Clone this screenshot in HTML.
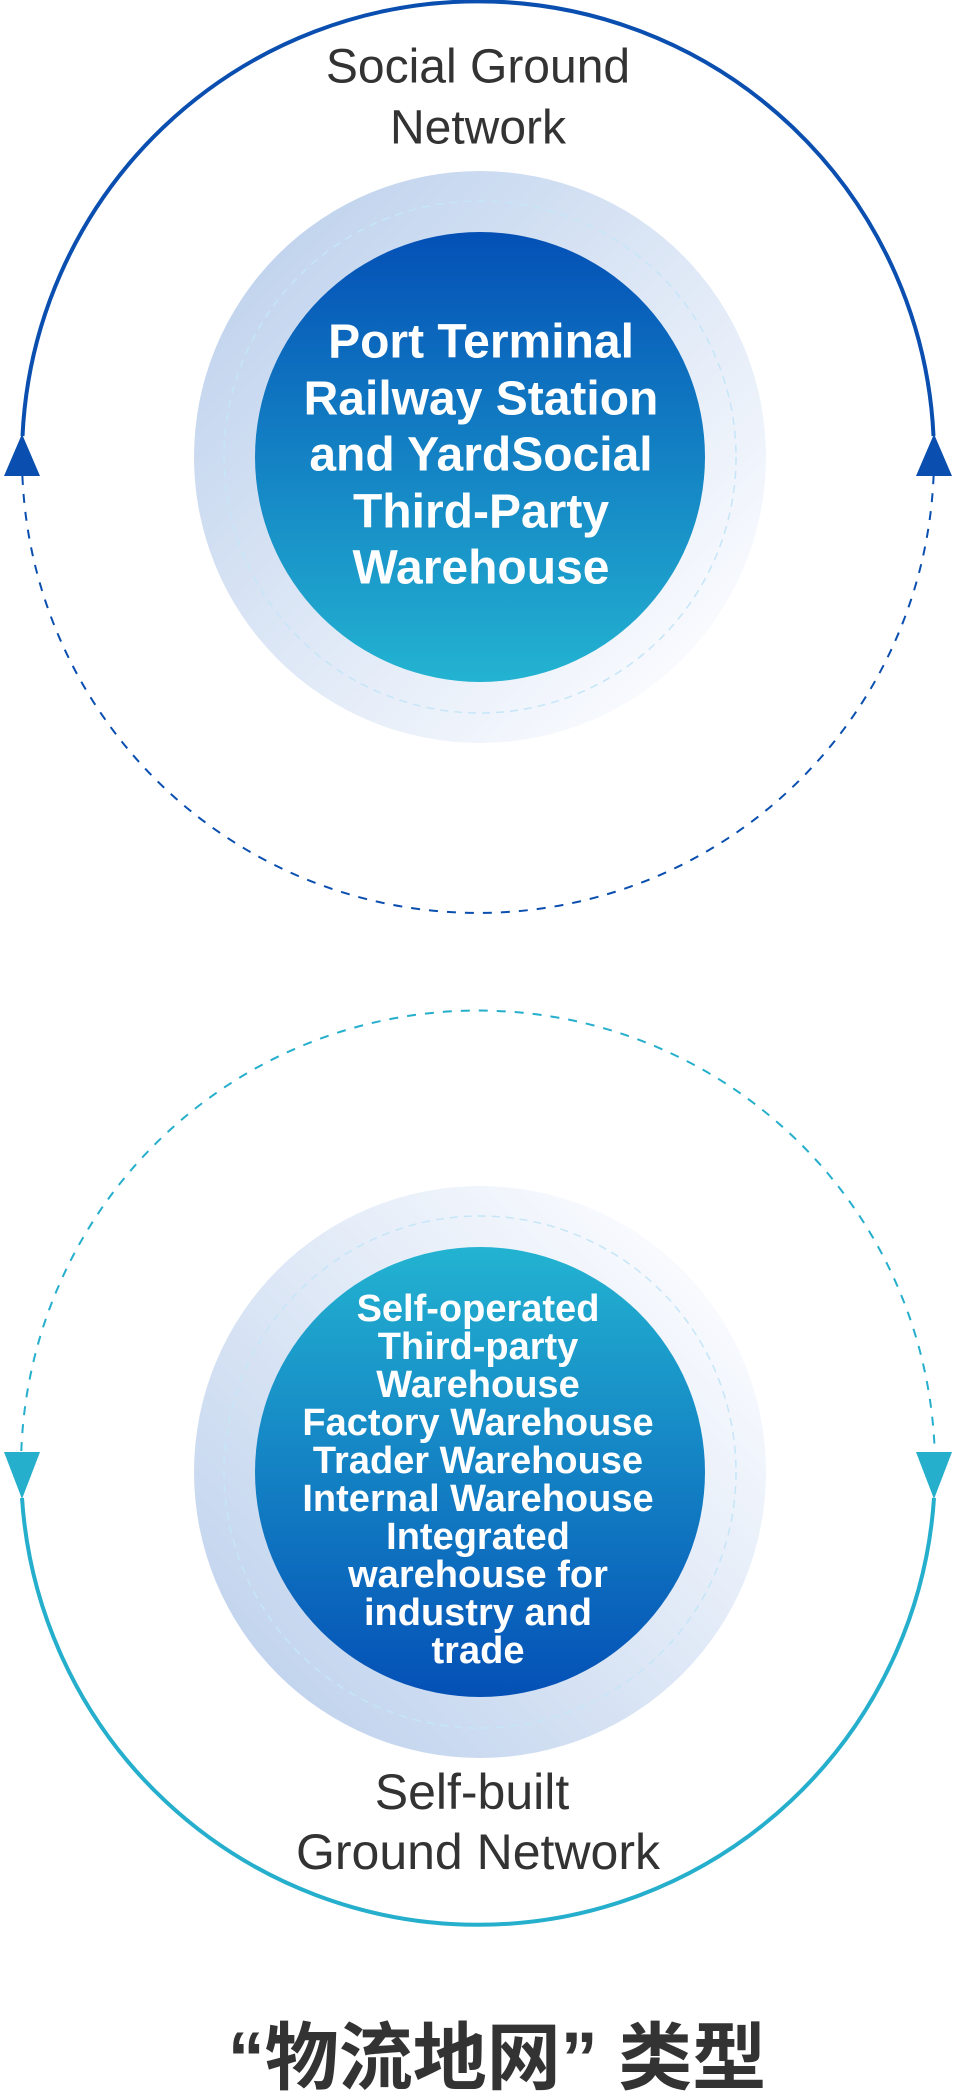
<!DOCTYPE html>
<html><head><meta charset="utf-8"><style>
html,body{margin:0;padding:0;background:#fff;}
body{width:954px;height:2096px;position:relative;overflow:hidden;font-family:"Liberation Sans","Noto Sans CJK SC",sans-serif;}
</style></head><body>
<svg width="954" height="2096" viewBox="0 0 954 2096" xmlns="http://www.w3.org/2000/svg" style="position:absolute;left:0;top:0">
<defs>
<linearGradient id="g1" x1="0" y1="0" x2="0" y2="1"><stop offset="0" stop-color="#0450b6"/><stop offset="1" stop-color="#23b3d1"/></linearGradient>
<linearGradient id="g2" x1="0" y1="0" x2="0" y2="1"><stop offset="0" stop-color="#23b3d1"/><stop offset="1" stop-color="#0450b6"/></linearGradient>
<linearGradient id="h1" x1="0.15" y1="0.15" x2="0.85" y2="0.85"><stop offset="0" stop-color="#c3d5ee"/><stop offset="1" stop-color="#f8fafe"/></linearGradient>
<linearGradient id="h2" x1="0.85" y1="0.15" x2="0.15" y2="0.85"><stop offset="0" stop-color="#f8fafe"/><stop offset="1" stop-color="#c3d5ee"/></linearGradient>
</defs>
<!-- top -->
<path d="M22.5 436 A456 456 0 0 1 933.5 436" fill="none" stroke="#0a4fb0" stroke-width="4"/>
<path d="M22.4 476 A456 456 0 0 0 933.6 476" fill="none" stroke="#0a4fb0" stroke-width="2" stroke-dasharray="9 9"/>
<polygon points="22,434 4,476 40,476" fill="#0a4fb0"/>
<polygon points="934,434 916,476 952,476" fill="#0a4fb0"/>
<circle cx="480" cy="457" r="286" fill="url(#h1)"/>
<circle cx="480" cy="457" r="256" fill="none" stroke="#c6e6f8" stroke-width="1.5" stroke-dasharray="8 6"/>
<circle cx="480" cy="457" r="225" fill="url(#g1)"/>
<text x="478" y="70" font-size="48" fill="#333" text-anchor="middle" dominant-baseline="middle">Social Ground</text>
<text x="478" y="131" font-size="48" fill="#333" text-anchor="middle" dominant-baseline="middle">Network</text>
<g font-size="48" font-weight="bold" fill="#fff" text-anchor="middle" dominant-baseline="middle">
<text x="481" y="345">Port Terminal</text>
<text x="481" y="402">Railway Station</text>
<text x="481" y="458">and YardSocial</text>
<text x="481" y="515">Third-Party</text>
<text x="481" y="571">Warehouse</text>
</g>
<!-- bottom -->
<path d="M21.3 1451 A457 457 0 0 1 934.7 1451" fill="none" stroke="#25afcc" stroke-width="2" stroke-dasharray="9 9"/>
<path d="M22 1498 A457 457 0 0 0 934 1498" fill="none" stroke="#25afcc" stroke-width="4"/>
<polygon points="22,1499 4,1452 40,1452" fill="#25afcc"/>
<polygon points="934,1499 916,1452 952,1452" fill="#25afcc"/>
<circle cx="480" cy="1472" r="286" fill="url(#h2)"/>
<circle cx="480" cy="1472" r="256" fill="none" stroke="#c6e6f8" stroke-width="1.5" stroke-dasharray="8 6"/>
<circle cx="480" cy="1472" r="225" fill="url(#g2)"/>
<g font-size="38" font-weight="bold" fill="#fff" text-anchor="middle" dominant-baseline="middle">
<text x="478" y="1311">Self-operated</text>
<text x="478" y="1349">Third-party</text>
<text x="478" y="1387">Warehouse</text>
<text x="478" y="1425">Factory Warehouse</text>
<text x="478" y="1463">Trader Warehouse</text>
<text x="478" y="1501">Internal Warehouse</text>
<text x="478" y="1539">Integrated</text>
<text x="478" y="1577">warehouse for</text>
<text x="478" y="1615">industry and</text>
<text x="478" y="1653">trade</text>
</g>
<text x="472" y="1796" font-size="50" fill="#333" text-anchor="middle" dominant-baseline="middle">Self-built</text>
<text x="478" y="1856" font-size="50" fill="#333" text-anchor="middle" dominant-baseline="middle">Ground Network</text>
<text x="497" y="2064" font-size="74" font-weight="bold" fill="#333" text-anchor="middle" dominant-baseline="middle">“物流地网” 类型</text>
</svg>
</body></html>
